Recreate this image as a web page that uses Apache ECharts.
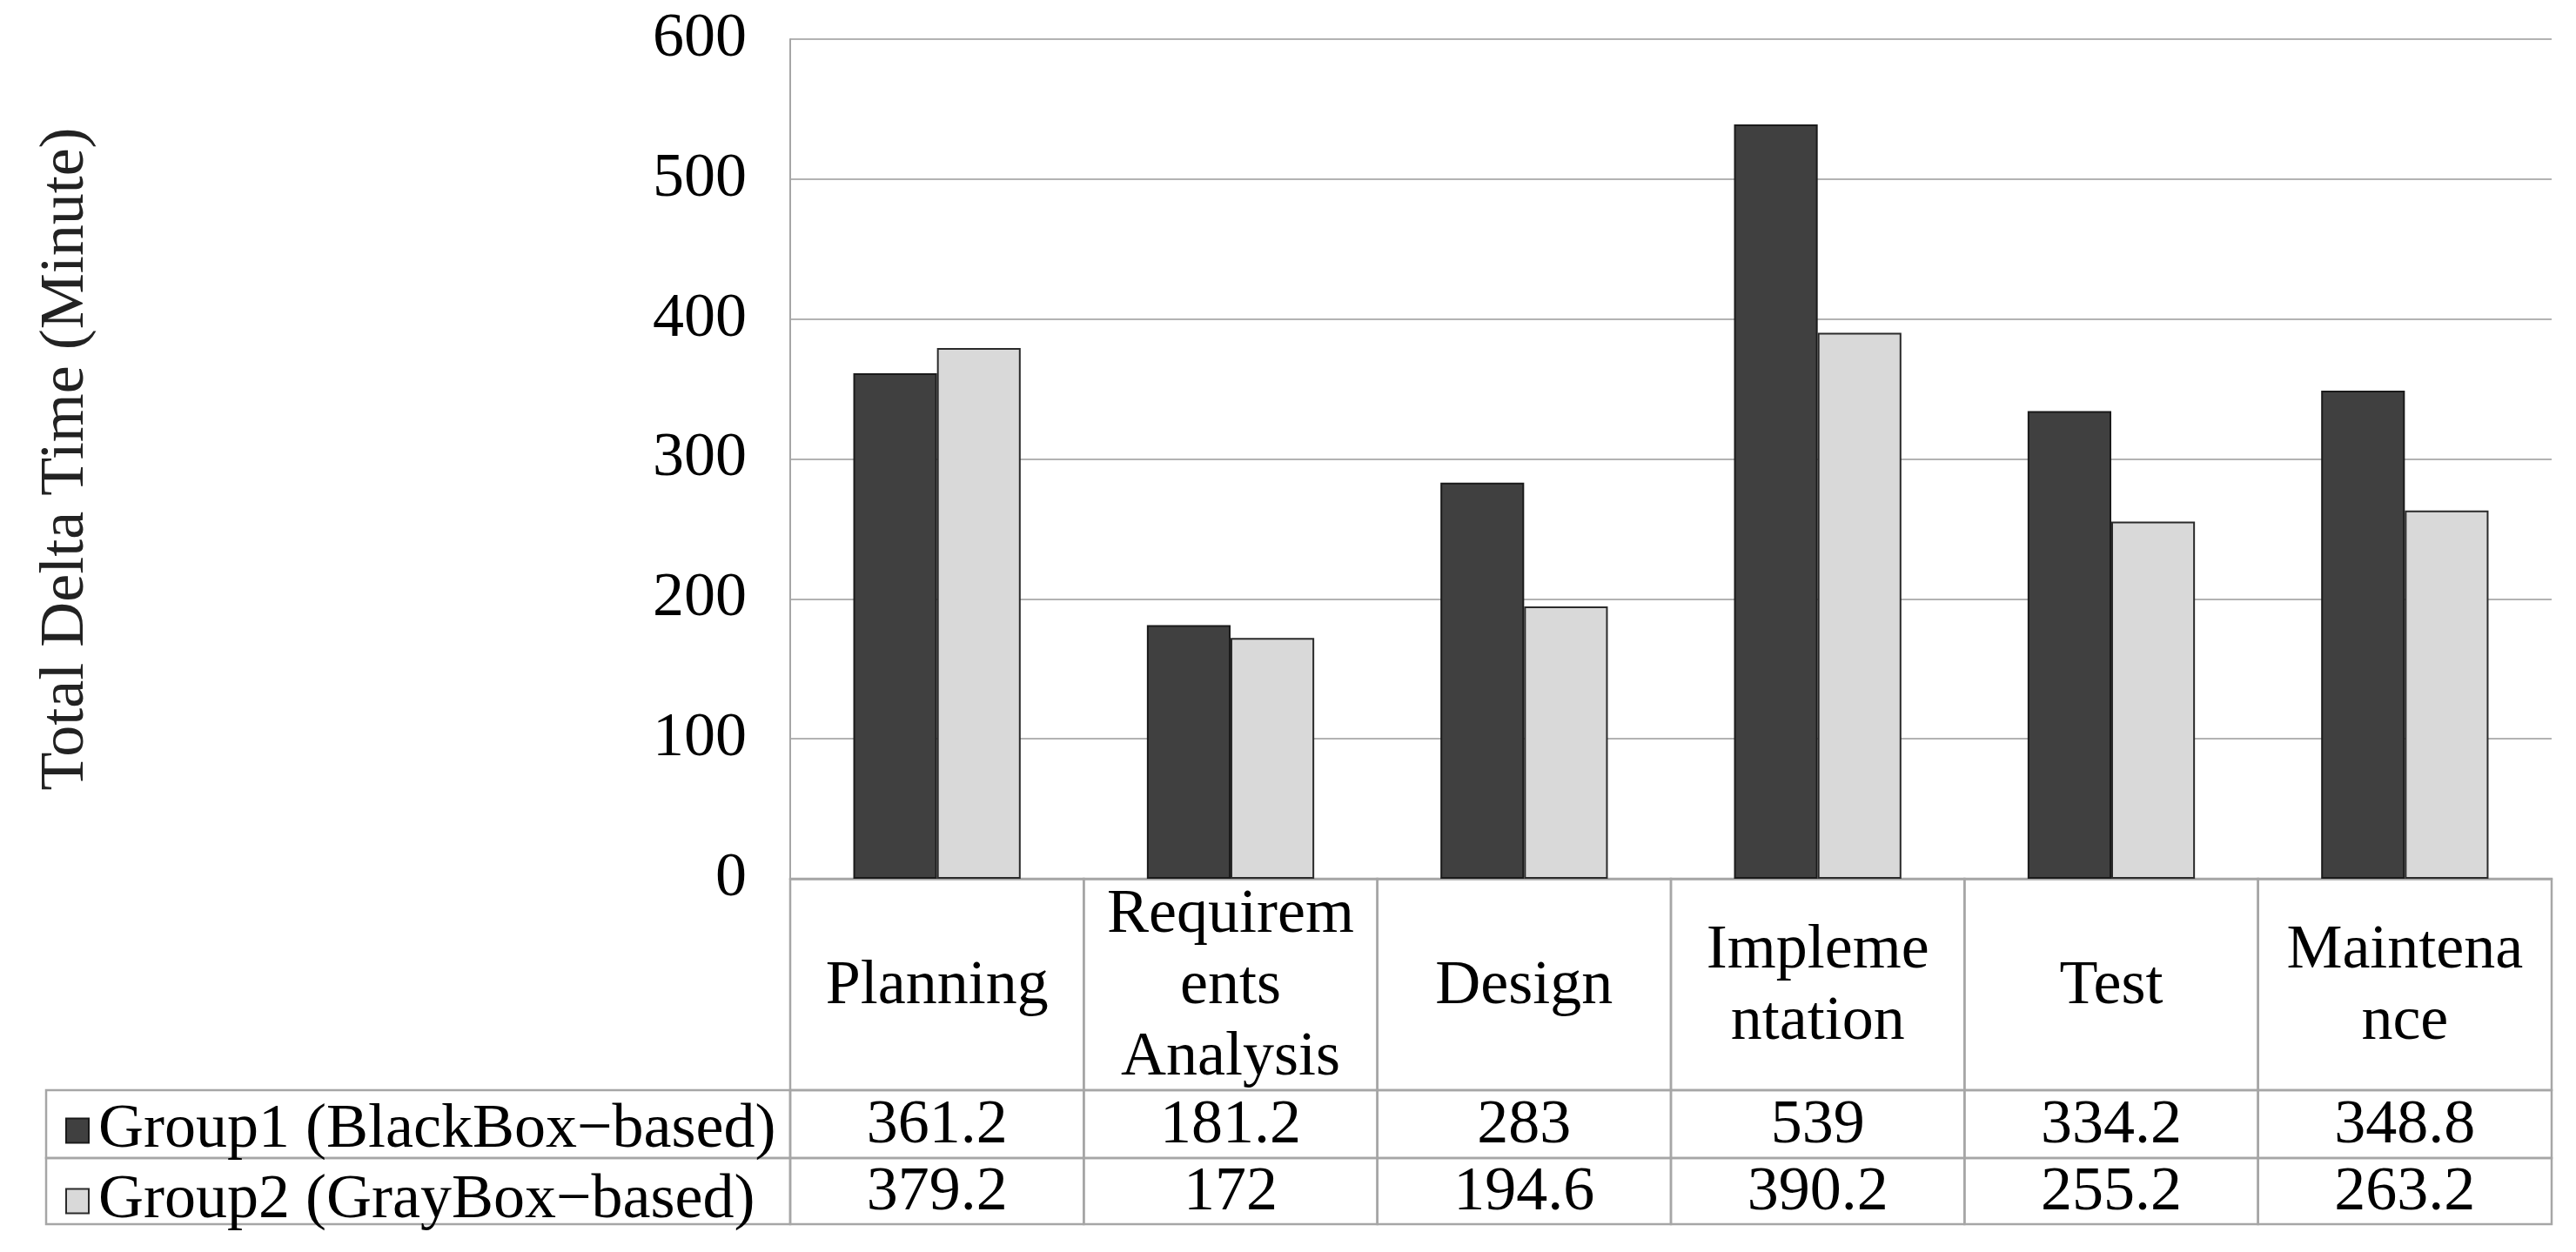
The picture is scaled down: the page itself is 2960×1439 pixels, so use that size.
<!DOCTYPE html>
<html>
<head>
<meta charset="utf-8">
<script src="https://cdn.jsdelivr.net/npm/echarts@6/dist/echarts.min.js"></script>
<style>
  html, body { margin: 0; padding: 0; background: #fff; }
  #main { width: 2960px; height: 1439px; }
</style>
</head>
<body>
<div id="main"></div>
<script>
// 数据
const categories = ['Planning', 'Requirem\nents\nAnalysis', 'Design', 'Impleme\nntation', 'Test', 'Maintena\nnce'];
const group1 = [361.2, 181.2, 283, 539, 334.2, 348.8];
const group2 = [379.2, 172, 194.6, 390.2, 255.2, 263.2];
const seriesNames = ['Group1 (BlackBox\u2212based)', 'Group2 (GrayBox\u2212based)'];
const yMin = 0;
const yMax = 600;
const yStep = 100;

const FONT = '"Liberation Serif", "DejaVu Serif", serif';
const LINE = '#a6a6a6';
// 表格尺寸
const HEADER_H = 243;
const ROW_H = [78, 76];
const TABLE_LEFT = 53;

let myChart = echarts.init(document.getElementById('main'));

/**
 * 画坐标轴下面的数据表
 */
function renderTable(params, api) {
  const idx = api.value(0);
  const base = api.coord([idx, 0]);
  const w = api.size([1, 0])[0];
  const x0 = base[0] - w / 2;
  const y0 = base[1];
  const children = [];
  const cell = (x, y, cw, ch) => ({
    type: 'rect',
    shape: { x: x, y: y, width: cw, height: ch },
    style: { fill: null, stroke: LINE, lineWidth: 2.5 }
  });
  const text = (t, x, y) => ({
    type: 'text',
    style: {
      text: t, x: x, y: y, fill: '#000',
      font: '72px ' + FONT, lineHeight: 82,
      align: 'center', verticalAlign: 'middle'
    }
  });
  children.push(cell(x0, y0, w, HEADER_H));
  children.push(text(categories[idx], base[0], y0 + HEADER_H / 2 + 3));
  let y = y0 + HEADER_H;
  const rows = [group1, group2];
  for (let r = 0; r < rows.length; r++) {
    children.push(cell(x0, y, w, ROW_H[r]));
    children.push(text(String(rows[r][idx]), base[0], y + ROW_H[r] / 2 + 2));
    if (idx === 0) {
      // 图例那一列的格子
      children.push(cell(TABLE_LEFT, y, x0 - TABLE_LEFT, ROW_H[r]));
    }
    y += ROW_H[r];
  }
  return { type: 'group', children: children };
}

myChart.setOption({
  animation: false,
  textStyle: { fontFamily: FONT },
  grid: { left: 908, right: 28, top: 45, bottom: 429 },
  legend: {
    data: seriesNames,
    orient: 'vertical',
    left: 70,
    top: 1254,
    itemWidth: 26,
    itemHeight: 28,
    itemGap: 0,
    icon: 'rect',
    textStyle: { fontFamily: FONT, fontSize: 72, color: '#000', lineHeight: 77, padding: [4, 0, 0, 6] },
    selectedMode: false
  },
  xAxis: {
    type: 'category',
    data: categories,
    axisLine: { show: true, lineStyle: { color: LINE, width: 2.5 } },
    axisTick: { show: false },
    axisLabel: { show: false },
    splitLine: { show: false }
  },
  yAxis: {
    type: 'value',
    min: yMin,
    max: yMax,
    interval: yStep,
    name: 'Total Delta Time (Minute)',
    nameLocation: 'middle',
    nameRotate: 90,
    nameGap: 796,
    nameTextStyle: { fontFamily: FONT, fontSize: 72, color: '#222' },
    axisLine: { show: true, lineStyle: { color: LINE, width: 2 } },
    axisTick: { show: false },
    axisLabel: { fontFamily: FONT, fontSize: 72, color: '#000', margin: 50 },
    splitLine: { show: true, lineStyle: { color: '#b3b3b3', width: 2 } }
  },
  series: [
    {
      name: seriesNames[0],
      type: 'bar',
      data: group1,
      barGap: '0%',
      barCategoryGap: '43%',
      itemStyle: { color: '#404040', borderColor: '#1a1a1a', borderWidth: 2 }
    },
    {
      name: seriesNames[1],
      type: 'bar',
      data: group2,
      barGap: '0%',
      barCategoryGap: '43%',
      itemStyle: { color: '#d9d9d9', borderColor: '#2a2a2a', borderWidth: 2 }
    },
    {
      type: 'custom',
      silent: true,
      clip: false,
      renderItem: renderTable,
      encode: { x: 0, y: 1 },
      data: categories.map((c, i) => [i, 0])
    }
  ]
});
</script>
</body>
</html>
